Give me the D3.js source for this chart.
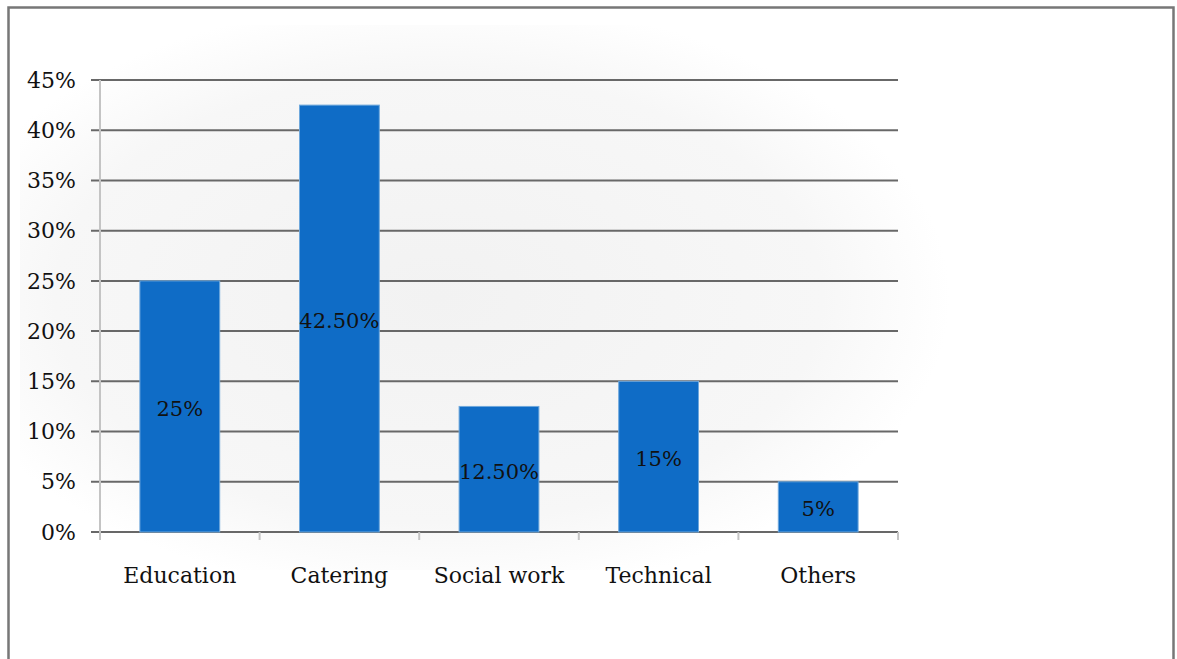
<!DOCTYPE html>
<html>
<head>
<meta charset="utf-8">
<script src="https://cdn.jsdelivr.net/npm/d3@7"></script>
<style>
  body { margin: 0; background: #fff; }
  svg { display: block; }
  text { font-family: "DejaVu Serif", "Liberation Serif", serif; fill: #111; }
</style>
</head>
<body>
<div id="chart"></div>
<script>
// sector shares, in percent
const categories = ["Education", "Catering", "Social work", "Technical", "Others"];
const values = [25, 42.5, 12.5, 15, 5];
const valueLabels = ["25%", "42.50%", "12.50%", "15%", "5%"];
const yTicks = [0, 5, 10, 15, 20, 25, 30, 35, 40, 45];

const width = 1177, height = 659;
const margin = { left: 100, right: 279, top: 80, bottom: 127 };

const svg = d3.select("#chart").append("svg")
    .attr("width", width)
    .attr("height", height);

const defs = svg.append("defs");
const grad = defs.append("radialGradient")
    .attr("id", "bg")
    .attr("cx", "45%").attr("cy", "50%").attr("r", "55%");
grad.append("stop").attr("offset", "0%").attr("stop-color", "#f2f2f2");
grad.append("stop").attr("offset", "75%").attr("stop-color", "#f7f7f7");
grad.append("stop").attr("offset", "100%").attr("stop-color", "#ffffff");

// outer frame
svg.append("rect")
    .attr("x", 8.5).attr("y", 7.5)
    .attr("width", 1165).attr("height", 680)
    .attr("fill", "#fff")
    .attr("stroke", "#777")
    .attr("stroke-width", 2.5);

// soft background behind plot
svg.append("rect")
    .attr("x", 20).attr("y", 25)
    .attr("width", 930).attr("height", 545)
    .attr("fill", "url(#bg)");

const x = d3.scaleBand()
    .domain(categories)
    .range([margin.left, width - margin.right])
    .paddingInner(0.5)
    .paddingOuter(0.25);

const y = d3.scaleLinear()
    .domain([0, 45])
    .range([height - margin.bottom, margin.top]);

const x0 = margin.left, x1 = width - margin.right;
const step = x.step();

// gridlines
svg.append("g")
    .selectAll("line")
    .data(yTicks)
    .join("line")
    .attr("x1", x0 - 9).attr("x2", x1)
    .attr("y1", d => y(d)).attr("y2", d => y(d))
    .attr("stroke", "#686868")
    .attr("stroke-width", 2);

// y axis line
svg.append("line")
    .attr("x1", x0).attr("x2", x0)
    .attr("y1", y(45)).attr("y2", y(0) + 8)
    .attr("stroke", "#c4c4c4")
    .attr("stroke-width", 2);

// category tick marks
svg.append("g")
    .selectAll("line")
    .data(d3.range(categories.length + 1))
    .join("line")
    .attr("x1", i => x0 + i * step).attr("x2", i => x0 + i * step)
    .attr("y1", y(0)).attr("y2", y(0) + 8)
    .attr("stroke", "#c4c4c4")
    .attr("stroke-width", 2);

// y labels
svg.append("g")
    .selectAll("text")
    .data(yTicks)
    .join("text")
    .attr("x", x0 - 24)
    .attr("y", d => y(d))
    .attr("dy", "0.35em")
    .attr("text-anchor", "end")
    .style("font-size", "22px")
    .text(d => d + "%");

// bars
svg.append("g")
    .selectAll("rect")
    .data(values)
    .join("rect")
    .attr("x", (d, i) => x(categories[i]))
    .attr("y", d => y(d))
    .attr("width", x.bandwidth())
    .attr("height", d => y(0) - y(d))
    .attr("fill", "#0f6cc6")
    .attr("stroke", "#6fa8dc")
    .attr("stroke-width", 1);

// value labels
svg.append("g")
    .selectAll("text")
    .data(values)
    .join("text")
    .attr("x", (d, i) => x(categories[i]) + x.bandwidth() / 2)
    .attr("y", d => (y(d) + y(0)) / 2 + 2)
    .attr("dy", "0.35em")
    .attr("text-anchor", "middle")
    .style("font-size", "21px")
    .text((d, i) => valueLabels[i]);

// category labels
svg.append("g")
    .selectAll("text")
    .data(categories)
    .join("text")
    .attr("x", d => x(d) + x.bandwidth() / 2)
    .attr("y", y(0) + 51)
    .attr("text-anchor", "middle")
    .style("font-size", "22px")
    .text(d => d);
</script>
</body>
</html>
